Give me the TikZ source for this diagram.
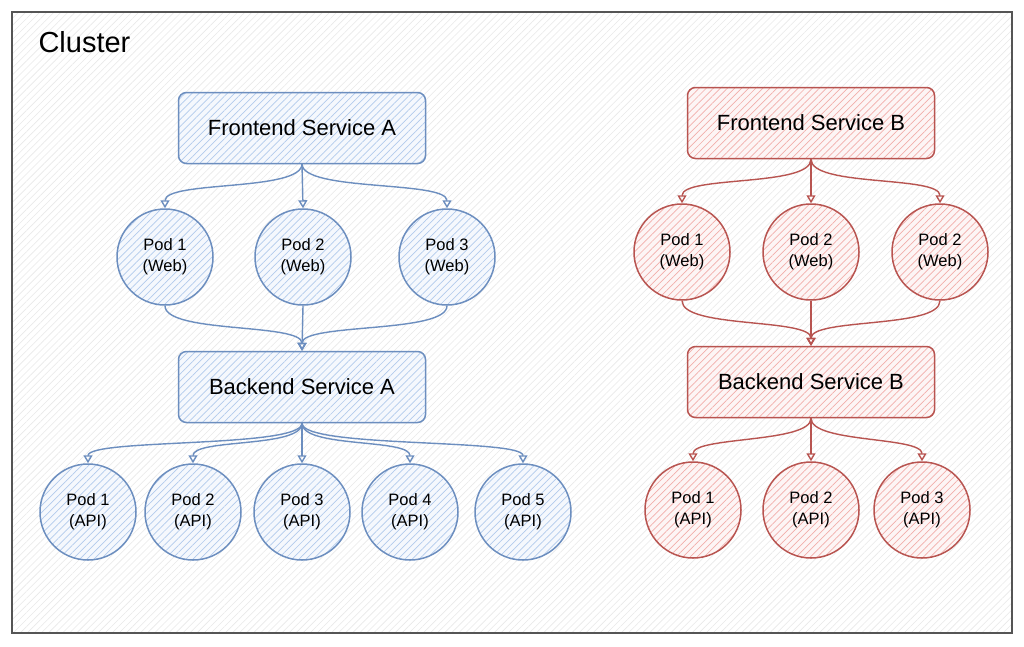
\documentclass[tikz,border=0pt]{standalone}
\usepackage{fontspec}
\setmainfont{Liberation Sans}
\usetikzlibrary{arrows.meta,patterns.meta}

\definecolor{lineA}{HTML}{6C8EBF}
\definecolor{hatchA}{HTML}{B2CAEC}
\definecolor{baseA}{HTML}{F5F8FD}
\definecolor{lineB}{HTML}{B85450}
\definecolor{hatchB}{HTML}{F1AEAA}
\definecolor{baseB}{HTML}{FDF5F5}
\definecolor{frameC}{HTML}{555555}
\definecolor{hatchC}{HTML}{E9E9E9}

\tikzset{
  svc/.style={rounded corners=8pt, line width=1.5pt, minimum width=247pt, minimum height=71pt, inner sep=0pt, font=\fontsize{22}{26}\selectfont},
  pod/.style={circle, line width=1.5pt, minimum size=96pt, inner sep=0pt, align=center, font=\fontsize{16.5}{21}\selectfont},
  tintA/.style={draw=lineA, preaction={fill=baseA}, pattern={Lines[angle=45,distance=5pt,line width=0.7pt]}, pattern color=hatchA},
  tintB/.style={draw=lineB, preaction={fill=baseB}, pattern={Lines[angle=45,distance=5pt,line width=0.7pt]}, pattern color=hatchB},
  linkA/.style={draw=lineA, line width=1.4pt, -{Triangle[open,length=8pt,width=9pt]}},
  linkB/.style={draw=lineB, line width=1.4pt, -{Triangle[open,length=8pt,width=9pt]}}
}

\begin{document}
\begin{tikzpicture}[x=1pt,y=-1pt]
\useasboundingbox (0,0) rectangle (1024,646);

% cluster frame
\draw [draw=frameC, line width=2pt, preaction={fill=white}, pattern={Lines[angle=45,distance=5pt,line width=0.6pt]}, pattern color=hatchC] (12,12) rectangle (1012,633);
\node [anchor=west, font=\fontsize{29}{31}\selectfont] (title) at (35,42) {Cluster};

% side A
\node [svc,tintA] (fsA) at (302,128) {Frontend Service A};
\node [pod,tintA] (webA1) at (165,257) {Pod 1\\(Web)};
\node [pod,tintA] (webA2) at (303,257) {Pod 2\\(Web)};
\node [pod,tintA] (webA3) at (447,257) {Pod 3\\(Web)};
\node [svc,tintA] (bsA) at (302,387) {Backend Service A};
\node [pod,tintA] (apiA1) at (88,512) {Pod 1\\(API)};
\node [pod,tintA] (apiA2) at (193,512) {Pod 2\\(API)};
\node [pod,tintA] (apiA3) at (302,512) {Pod 3\\(API)};
\node [pod,tintA] (apiA4) at (410,512) {Pod 4\\(API)};
\node [pod,tintA] (apiA5) at (523,512) {Pod 5\\(API)};

\draw [linkA] (fsA.south) .. controls +(0,28) and +(0,-28) .. (webA1.north);
\draw [linkA] (fsA.south) -- (webA2.north);
\draw [linkA] (fsA.south) .. controls +(0,28) and +(0,-28) .. (webA3.north);
\draw [linkA] (webA1.south) .. controls +(0,28) and +(0,-28) .. (bsA.north);
\draw [linkA] (webA2.south) -- (bsA.north);
\draw [linkA] (webA3.south) .. controls +(0,28) and +(0,-28) .. (bsA.north);
\draw [linkA] (bsA.south) .. controls +(0,25) and +(0,-25) .. (apiA1.north);
\draw [linkA] (bsA.south) .. controls +(0,25) and +(0,-25) .. (apiA2.north);
\draw [linkA] (bsA.south) -- (apiA3.north);
\draw [linkA] (bsA.south) .. controls +(0,25) and +(0,-25) .. (apiA4.north);
\draw [linkA] (bsA.south) .. controls +(0,25) and +(0,-25) .. (apiA5.north);

% side B
\node [svc,tintB] (fsB) at (811,123) {Frontend Service B};
\node [pod,tintB] (webB1) at (682,252) {Pod 1\\(Web)};
\node [pod,tintB] (webB2) at (811,252) {Pod 2\\(Web)};
\node [pod,tintB] (webB3) at (940,252) {Pod 2\\(Web)};
\node [svc,tintB] (bsB) at (811,382) {Backend Service B};
\node [pod,tintB] (apiB1) at (693,510) {Pod 1\\(API)};
\node [pod,tintB] (apiB2) at (811,510) {Pod 2\\(API)};
\node [pod,tintB] (apiB3) at (922,510) {Pod 3\\(API)};

\draw [linkB] (fsB.south) .. controls +(0,28) and +(0,-28) .. (webB1.north);
\draw [linkB] (fsB.south) -- (webB2.north);
\draw [linkB] (fsB.south) .. controls +(0,28) and +(0,-28) .. (webB3.north);
\draw [linkB] (webB1.south) .. controls +(0,28) and +(0,-28) .. (bsB.north);
\draw [linkB] (webB2.south) -- (bsB.north);
\draw [linkB] (webB3.south) .. controls +(0,28) and +(0,-28) .. (bsB.north);
\draw [linkB] (bsB.south) .. controls +(0,25) and +(0,-25) .. (apiB1.north);
\draw [linkB] (bsB.south) -- (apiB2.north);
\draw [linkB] (bsB.south) .. controls +(0,25) and +(0,-25) .. (apiB3.north);

\end{tikzpicture}
\end{document}
